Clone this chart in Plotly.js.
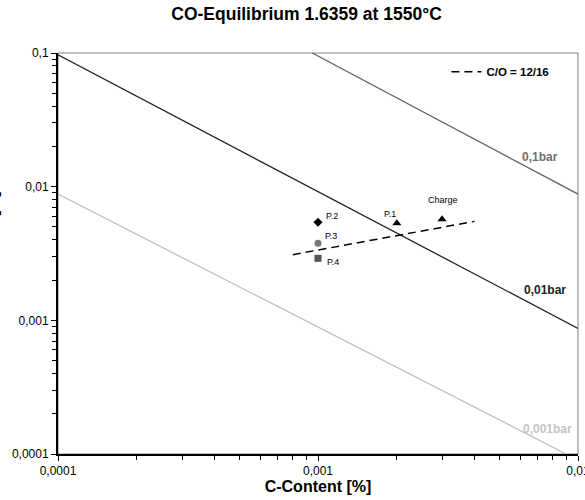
<!DOCTYPE html>
<html><head><meta charset="utf-8">
<script src="https://cdn.plot.ly/plotly-3.0.1.min.js"></script>
<style>body{margin:0;background:#fff}#plot{width:585px;height:500px}</style>
</head><body><div id="plot"></div>
<script>
// Isobar lines (end points)
var bar01_x = [0.00095, 0.01];
var bar01_y = [0.1, 0.0088];
var bar001_x = [0.0001, 0.01];
var bar001_y = [0.097, 0.00087];
var bar0001_x = [0.0001, 0.009];
var bar0001_y = [0.0088, 0.0001];
// C/O = 12/16 line
var co_x = [0.0008, 0.004];
var co_y = [0.0031, 0.0055];
// Measured points
var pointNames = ["P.1", "P.2", "P.3", "P.4", "Charge"];
var pointX = [0.00201, 0.001, 0.001, 0.001, 0.0030];
var pointY = [0.00533, 0.00542, 0.00378, 0.00291, 0.00571];
var pointSymbols = ["triangle-up", "diamond", "circle", "square", "triangle-up"];
var pointColors = ["#000000", "#000000", "#777777", "#555555", "#000000"];
// Isobar labels
var barLabels = ["0,1bar", "0,01bar", "0,001bar"];
var barLabelX = [0.00714, 0.00746, 0.00766];
var barLabelY = [0.0166, 0.00168, 0.000155];
var barColors = ["#707070", "#222222", "#c4c4c4"];
// Tick labels
var yTickVals = [0.0001, 0.001, 0.01, 0.1];
var yTickText = ["0,0001", "0,001", "0,01", "0,1"];
var xTickVals = [0.0001, 0.001, 0.01];
var xTickText = ["0,0001", "0,001", "0,01"];

var font = 'Liberation Sans, Arial, sans-serif';
function minorVals(lo, hi) {
  var v = [];
  for (var e = lo; e < hi; e++) for (var d = 2; d <= 9; d++) v.push(d * Math.pow(10, e));
  return v;
}

var traces = [
  {x: bar01_x, y: bar01_y, mode: 'lines', line: {color: '#666666', width: 1.3}, showlegend: false, hoverinfo: 'skip'},
  {x: bar001_x, y: bar001_y, mode: 'lines', line: {color: '#222222', width: 1.3}, showlegend: false, hoverinfo: 'skip'},
  {x: bar0001_x, y: bar0001_y, mode: 'lines', line: {color: '#c0c0c0', width: 1.3}, showlegend: false, hoverinfo: 'skip'},
  {x: co_x, y: co_y, mode: 'lines', name: '<b>C/O = 12/16</b>', line: {color: '#000000', width: 1.5, dash: '8px,5px'}, showlegend: true}
];
for (var i = 0; i < pointNames.length; i++) {
  traces.push({x: [pointX[i]], y: [pointY[i]], mode: 'markers', name: pointNames[i], showlegend: false,
    marker: {symbol: pointSymbols[i], color: pointColors[i], size: pointSymbols[i] === 'triangle-up' ? 8 : 7}});
}

var L = Math.log10;
var labelOffsets = {"P.1": [-7, -9], "P.2": [14, -6], "P.3": [13, -7], "P.4": [15, 4], "Charge": [1, -19]};
var annotations = [];
for (var j = 0; j < pointNames.length; j++) {
  var o = labelOffsets[pointNames[j]];
  annotations.push({x: L(pointX[j]), y: L(pointY[j]), xref: 'x', yref: 'y', text: pointNames[j], showarrow: false,
    xshift: o[0], yshift: -o[1], font: {family: font, size: 9, color: '#000'}});
}
for (var k = 0; k < barLabels.length; k++) {
  annotations.push({x: L(barLabelX[k]), y: L(barLabelY[k]), xref: 'x', yref: 'y', text: '<b>' + barLabels[k] + '</b>',
    showarrow: false, font: {family: font, size: 12, color: barColors[k]}});
}
annotations.push({x: -0.107, y: 0.521, xref: 'paper', yref: 'paper', xanchor: 'right', yanchor: 'middle', text: '<b>O-Content [%]</b>',
  textangle: -90, showarrow: false, font: {family: font, size: 16, color: '#000'}});

var layout = {
  width: 585, height: 500,
  margin: {l: 58, r: 7, t: 53, b: 46},
  paper_bgcolor: '#fff', plot_bgcolor: '#fff',
  title: {text: '<b>CO-Equilibrium 1.6359 at 1550°C</b>', x: 0.524, xanchor: 'center', y: 0.972, yanchor: 'middle',
    font: {family: font, size: 17.5, color: '#000'}},
  xaxis: {type: 'log', range: [-4, -2], tickvals: xTickVals, ticktext: xTickText, ticks: 'outside', ticklen: 5,
    tickcolor: '#000', showline: true, linecolor: '#000', linewidth: 2, showgrid: false, zeroline: false,
    ticklabeloverflow: 'allow',
    tickfont: {family: font, size: 12, color: '#000'},
    minor: {tickvals: minorVals(-4, -2), ticks: 'outside', ticklen: 4, tickcolor: '#000', showgrid: false},
    title: {text: '<b>C-Content [%]</b>', font: {family: font, size: 16, color: '#000'}, standoff: 3}},
  yaxis: {type: 'log', range: [-4, -1], tickvals: yTickVals, ticktext: yTickText, ticks: 'outside', ticklen: 5,
    tickcolor: '#000', showline: true, linecolor: '#000', linewidth: 2, showgrid: false, zeroline: false,
    tickfont: {family: font, size: 12, color: '#000'},
    minor: {tickvals: minorVals(-4, -1), ticks: 'outside', ticklen: 4, tickcolor: '#000', showgrid: false}},
  shapes: [{type: 'rect', xref: 'paper', yref: 'paper', x0: 0, x1: 1, y0: 0, y1: 1, line: {color: '#808080', width: 1}, layer: 'below'}],
  showlegend: true,
  legend: {x: 0.747, y: 0.953, xanchor: 'left', yanchor: 'middle', bgcolor: 'rgba(0,0,0,0)', itemwidth: 30,
    font: {family: font, size: 11.5, color: '#000'}},
  annotations: annotations
};
Plotly.newPlot('plot', traces, layout, {displayModeBar: false, staticPlot: true});
</script></body></html>
